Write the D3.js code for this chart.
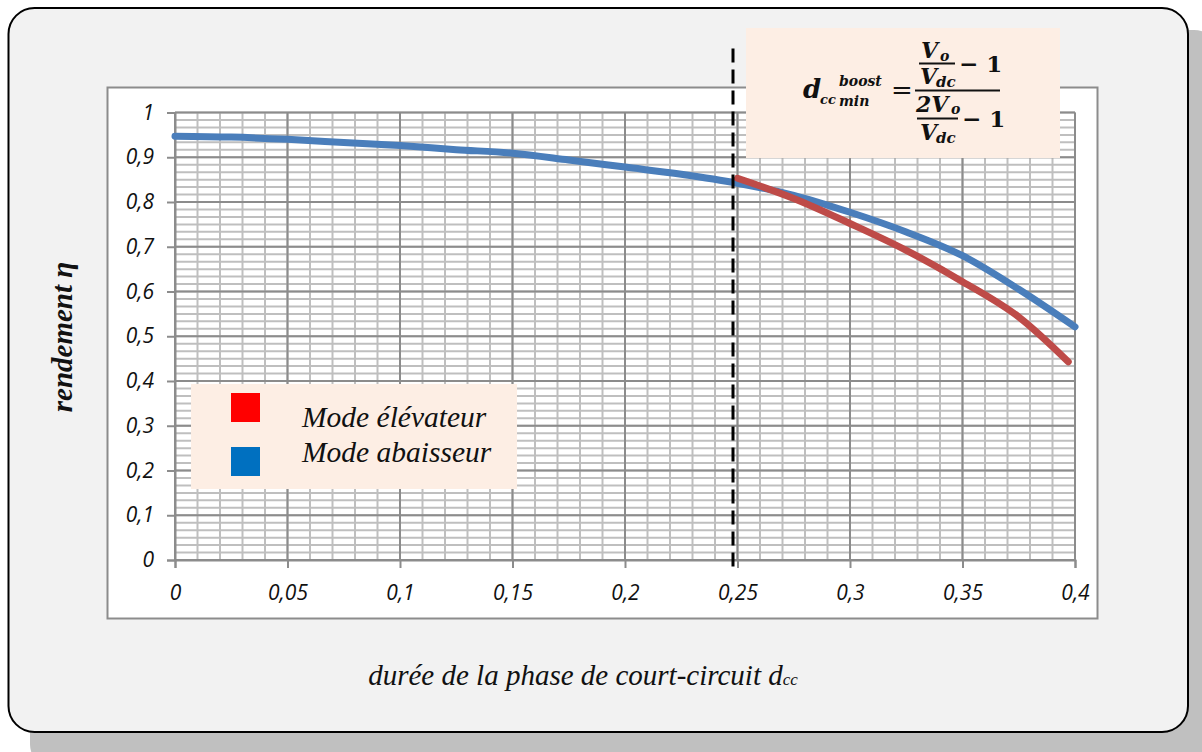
<!DOCTYPE html>
<html><head><meta charset="utf-8">
<script src="https://cdn.jsdelivr.net/npm/d3@7"></script>
<style>
html,body{margin:0;padding:0;background:#ffffff;}
svg{display:block;}
</style></head>
<body>
<script>
// ---- data ----
const xTickValues = [0,0.05,0.1,0.15,0.2,0.25,0.3,0.35,0.4];
const xTickLabels = ["0","0,05","0,1","0,15","0,2","0,25","0,3","0,35","0,4"];
const yTickValues = [0,0.1,0.2,0.3,0.4,0.5,0.6,0.7,0.8,0.9,1];
const yTickLabels = ["0","0,1","0,2","0,3","0,4","0,5","0,6","0,7","0,8","0,9","1"];
const abaisseurX = [0,0.025,0.05,0.075,0.1,0.125,0.15,0.175,0.2,0.225,0.25,0.275,0.3,0.325,0.35,0.375,0.4];
const abaisseurY = [0.947,0.945,0.940,0.933,0.926,0.917,0.909,0.894,0.878,0.862,0.842,0.815,0.777,0.733,0.680,0.605,0.521];
const elevateurX = [0.25,0.275,0.3,0.325,0.35,0.375,0.397];
const elevateurY = [0.853,0.808,0.752,0.692,0.622,0.543,0.443];
const seriesNames = ["Mode élévateur","Mode abaisseur"];
const seriesColors = ["#be4b48","#4a7ebb"];
const legendColors = ["#ff0000","#0070c0"];
const dashX = 0.248;

const W=1202,H=752;
const svg=d3.select("body").append("svg").attr("width",W).attr("height",H);

// outer frame with shadow
svg.append("rect").attr("x",30).attr("y",30).attr("width",1190).attr("height",740).attr("rx",26).attr("fill","#c0c0c0");
svg.append("rect").attr("x",8.5).attr("y",8).attr("width",1179.5).attr("height",724).attr("rx",26)
  .attr("fill","#f2f2f2").attr("stroke","#000").attr("stroke-width",2);
// inner chart area
svg.append("rect").attr("x",107.5).attr("y",87.5).attr("width",990).attr("height",531)
  .attr("fill","#ffffff").attr("stroke","#8c8c8c").attr("stroke-width",2);

const x=d3.scaleLinear().domain([0,0.4]).range([175,1075]);
const y=d3.scaleLinear().domain([0,1]).range([560,112.5]);

const g=svg.append("g");
// minor grid
const minorX=d3.range(0,0.4001,0.01);
const minorY=d3.range(0,1.0001,1/60);
g.selectAll("line.mx").data(minorX).join("line")
  .attr("x1",d=>x(d)).attr("x2",d=>x(d)).attr("y1",y(0)).attr("y2",y(1))
  .attr("stroke","#bfbfbf").attr("stroke-width",2);
g.selectAll("line.my").data(minorY).join("line")
  .attr("x1",x(0)).attr("x2",x(0.4)).attr("y1",d=>y(d)).attr("y2",d=>y(d))
  .attr("stroke","#bfbfbf").attr("stroke-width",2);
// major grid
g.selectAll("line.Mx").data(xTickValues).join("line")
  .attr("x1",d=>x(d)).attr("x2",d=>x(d)).attr("y1",y(0)).attr("y2",y(1))
  .attr("stroke","#8c8c8c").attr("stroke-width",2);
g.selectAll("line.My").data(yTickValues).join("line")
  .attr("x1",x(0)).attr("x2",x(0.4)).attr("y1",d=>y(d)).attr("y2",d=>y(d))
  .attr("stroke","#8c8c8c").attr("stroke-width",2);

// axes
const tickFont="'Open Sans', sans-serif";
const yAxis=d3.axisLeft(y).tickValues(yTickValues).tickFormat((d,i)=>yTickLabels[i]).tickSize(8).tickPadding(13);
const ya=svg.append("g").attr("transform",`translate(${x(0)},0)`).call(yAxis);
const xAxis=d3.axisBottom(x).tickValues(xTickValues).tickFormat((d,i)=>xTickLabels[i]).tickSize(8).tickPadding(17);
const xa=svg.append("g").attr("transform",`translate(0,${y(0)})`).call(xAxis);
[ya,xa].forEach(a=>{
  a.select(".domain").attr("stroke","#8c8c8c").attr("stroke-width",2);
  a.selectAll(".tick line").attr("stroke","#8c8c8c").attr("stroke-width",2);
  a.selectAll("text").attr("font-family",tickFont).attr("font-style","italic").attr("font-size",21).attr("fill","#111");
});

// lines
const line=d3.line().x(d=>x(d[0])).y(d=>y(d[1])).curve(d3.curveMonotoneX);
svg.append("path").datum(abaisseurX.map((v,i)=>[v,abaisseurY[i]])).attr("d",line)
  .attr("fill","none").attr("stroke",seriesColors[1]).attr("stroke-width",7).attr("stroke-linecap","round");
svg.append("path").datum(elevateurX.map((v,i)=>[v,elevateurY[i]])).attr("d",line)
  .attr("fill","none").attr("stroke",seriesColors[0]).attr("stroke-width",7).attr("stroke-linecap","round");

// dashed line
svg.append("line").attr("x1",x(dashX)).attr("x2",x(dashX)).attr("y1",y(1.143)).attr("y2",y(-0.022))
  .attr("stroke","#000").attr("stroke-width",3).attr("stroke-dasharray","14,7");

// formula box
svg.append("rect").attr("x",746).attr("y",28).attr("width",314).attr("height",130).attr("fill","#fdeee4");
const ff="'DejaVu Serif', serif";
const F=svg.append("g").attr("font-family",ff).attr("font-style","italic").attr("font-weight","bold").attr("fill","#111");
function t(txt,xx,yy,fs){F.append("text").attr("x",xx).attr("y",yy).attr("font-size",fs).text(txt);}
t("d",803,98,26);
t("cc",820,104,13);
t("boost",839,86,14);
t("min",839,106,14);
F.append("text").attr("x",891).attr("y",99).attr("font-size",26).attr("font-style","normal").attr("font-weight","normal").text("=");
// numerator
t("V",921,58,22); t("o",940,61,14);
F.append("line").attr("x1",919).attr("x2",955).attr("y1",63.5).attr("y2",63.5).attr("stroke","#111").attr("stroke-width",2);
t("V",920,84,22); t("dc",936,87,15);
F.append("text").attr("x",959).attr("y",72).attr("font-size",23).attr("font-style","normal").text("− 1");
// main bar
F.append("line").attr("x1",915).attr("x2",1000).attr("y1",90.5).attr("y2",90.5).attr("stroke","#111").attr("stroke-width",2);
// denominator
t("2V",916,112,22); t("o",951,114,14);
F.append("line").attr("x1",917).attr("x2",958).attr("y1",118.5).attr("y2",118.5).attr("stroke","#111").attr("stroke-width",2);
t("V",920,140,22); t("dc",936,143,15);
F.append("text").attr("x",962).attr("y",127).attr("font-size",23).attr("font-style","normal").text("− 1");

// legend
svg.append("rect").attr("x",191).attr("y",384).attr("width",326).attr("height",105).attr("fill","#fdeee4");
const lg=svg.append("g");
lg.selectAll("rect.sw").data(seriesNames).join("rect")
  .attr("x",231).attr("y",(d,i)=>393+i*54).attr("width",29).attr("height",29).attr("fill",(d,i)=>legendColors[i]);
lg.selectAll("text").data(seriesNames).join("text")
  .attr("x",302).attr("y",(d,i)=>427+i*35).text(d=>d)
  .attr("font-family","'Liberation Serif', serif").attr("font-style","italic").attr("font-size",29.5).attr("fill","#111");

// axis titles
svg.append("text").attr("transform","translate(72,337) rotate(-90)").attr("text-anchor","middle")
  .attr("font-family","'Liberation Serif', serif").attr("font-style","italic").attr("font-weight","bold").attr("font-size",29).attr("fill","#111")
  .text("rendement η");
const xt=svg.append("text").attr("x",583).attr("y",685).attr("text-anchor","middle")
  .attr("font-family","'Liberation Serif', serif").attr("font-style","italic").attr("font-size",29).attr("fill","#111");
xt.append("tspan").text("durée de la phase de court-circuit d");
xt.append("tspan").attr("font-size",17).text("cc");
</script>
</body></html>
